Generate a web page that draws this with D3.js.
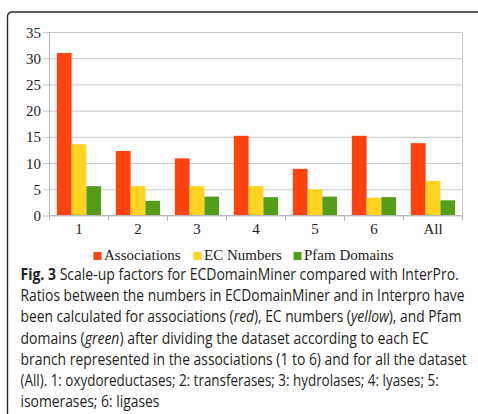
<!DOCTYPE html>
<html>
<head>
<meta charset="utf-8">
<script src="https://cdn.jsdelivr.net/npm/d3@7/dist/d3.min.js"></script>
<style>
  html, body { margin: 0; padding: 0; background: #fff; }
  svg { display: block; }
</style>
</head>
<body>
<svg id="fig" width="478" height="414"></svg>
<script>
// Scale-up factors per EC class
const categories = ["1", "2", "3", "4", "5", "6", "All"];
const seriesNames = ["Associations", "EC Numbers", "Pfam Domains"];
const associations = [31.0, 12.3, 10.9, 15.2, 8.9, 15.2, 13.8];
const ecNumbers   = [13.6, 5.6, 5.6, 5.6, 5.0, 3.4, 6.6];
const pfamDomains = [5.6, 2.8, 3.6, 3.5, 3.6, 3.5, 2.9];
const yTicks = [0, 5, 10, 15, 20, 25, 30, 35];
const seriesColors = ["#ff420e", "#ffd320", "#579d1c"];

// Caption lines; each line is a list of [text, style] runs
const captionLines = [
  [["Fig. 3", "bold"], [" Scale-up factors for ECDomainMiner compared with InterPro.", ""]],
  [["Ratios between the numbers in ECDomainMiner and in Interpro have", ""]],
  [["been calculated for associations (", ""], ["red", "italic"], ["), EC numbers (", ""], ["yellow", "italic"], ["), and Pfam", ""]],
  [["domains (", ""], ["green", "italic"], [") after dividing the dataset according to each EC", ""]],
  [["branch represented in the associations (1 to 6) and for all the dataset", ""]],
  [["(All). 1: oxydoreductases; 2: transferases; 3: hydrolases; 4: lyases; 5:", ""]],
  [["isomerases; 6: ligases", ""]]
];
// right edge of each full caption line (the short closing line uses the common scale)
const captionRight = [459, 465, 462, 429, 467, 439, null];

const seriesValues = [associations, ecNumbers, pfamDomains];
const rows = categories.map((c, i) => ({
  cat: c,
  vals: seriesNames.map((s, j) => ({ key: s, value: seriesValues[j][i], color: seriesColors[j] }))
}));

const svg = d3.select("#fig");

// Figure frame with a rounded top-left corner running off the page
svg.append("path")
  .attr("d", "M7.5,420 L7.5,17 Q7.5,12 12.5,12 L490,12")
  .attr("fill", "none")
  .attr("stroke", "#2a2a2a")
  .attr("stroke-width", 1.4);

const plot = { left: 49.5, right: 462.5, top: 32, bottom: 215.5 };

const x0 = d3.scaleBand().domain(categories).range([plot.left, plot.right]).paddingInner(0).paddingOuter(0);
const x1 = d3.scaleBand().domain(seriesNames).range([0, x0.bandwidth()]).paddingInner(0).paddingOuter(0.5);
const y = d3.scaleLinear().domain([0, 35]).range([plot.bottom, plot.top]);

const serif = "'Liberation Serif', 'Times New Roman', serif";

// Horizontal grid with outward tick stubs
const yAxis = d3.axisLeft(y).tickValues(yTicks).tickSize(plot.right - plot.left + 6.5).tickPadding(2);
const gy = svg.append("g")
  .attr("transform", `translate(${plot.right},0)`)
  .call(yAxis);
gy.select(".domain").remove();
gy.selectAll(".tick line").attr("stroke", "#c8c8c8").attr("stroke-width", 1);
gy.selectAll(".tick text")
  .attr("font-family", serif)
  .attr("font-size", 15)
  .attr("fill", "#222")
  .attr("dy", "0.34em");

// Plot border lines (left and right)
svg.append("line")
  .attr("x1", plot.left).attr("x2", plot.left)
  .attr("y1", plot.top).attr("y2", plot.bottom)
  .attr("stroke", "#b8b8b8");
svg.append("line")
  .attr("x1", plot.right).attr("x2", plot.right)
  .attr("y1", plot.top).attr("y2", plot.bottom)
  .attr("stroke", "#c8c8c8");

// Bars
const groups = svg.append("g").selectAll("g")
  .data(rows)
  .join("g")
  .attr("transform", d => `translate(${x0(d.cat)},0)`);
groups.selectAll("rect")
  .data(d => d.vals)
  .join("rect")
  .attr("x", d => x1(d.key))
  .attr("width", x1.bandwidth())
  .attr("y", d => y(d.value))
  .attr("height", d => y(0) - y(d.value))
  .attr("fill", d => d.color);

// Category axis: boundary ticks between groups and centered labels
const boundaries = categories.map(c => x0(c)).concat([plot.right]);
svg.append("line")
  .attr("x1", plot.left).attr("x2", plot.right)
  .attr("y1", plot.bottom).attr("y2", plot.bottom)
  .attr("stroke", "#b8b8b8");
svg.append("g").selectAll("line")
  .data(boundaries)
  .join("line")
  .attr("x1", d => d).attr("x2", d => d)
  .attr("y1", plot.bottom).attr("y2", plot.bottom + 5)
  .attr("stroke", "#b8b8b8");
svg.append("g").selectAll("text")
  .data(categories)
  .join("text")
  .attr("x", d => x0(d) + x0.bandwidth() / 2)
  .attr("y", 234)
  .attr("text-anchor", "middle")
  .attr("font-family", serif)
  .attr("font-size", 15)
  .attr("fill", "#222")
  .text(d => d);

// Legend
const legendX = [93.5, 193.5, 293.5];
const legend = svg.append("g").selectAll("g")
  .data(seriesNames)
  .join("g")
  .attr("transform", (d, i) => `translate(${legendX[i]},0)`);
legend.append("rect")
  .attr("x", 0).attr("y", 252)
  .attr("width", 8).attr("height", 8)
  .attr("fill", (d, i) => seriesColors[i]);
legend.append("text")
  .attr("x", 10.5).attr("y", 260)
  .attr("font-family", serif)
  .attr("font-size", 15)
  .attr("fill", "#222")
  .text(d => d);

// Caption: a humanist sans narrowed horizontally so each line fills its measure
const capLeft = 20.5;
const cap = svg.append("g")
  .attr("font-family", "'Open Sans', 'Noto Sans', sans-serif")
  .attr("font-size", 16.5)
  .attr("fill", "#231f20");
const capTexts = captionLines.map((runs, i) => {
  const g = cap.append("g");
  const t = g.append("text")
    .attr("x", 0)
    .attr("y", 0);
  runs.forEach(([txt, style]) => {
    const s = t.append("tspan").text(txt);
    if (style === "bold") s.attr("font-weight", 700);
    if (style === "italic") s.attr("font-style", "italic");
  });
  return { g, t };
});
const scales = capTexts.map((d, i) =>
  captionRight[i] == null ? null : (captionRight[i] - capLeft) / d.t.node().getComputedTextLength());
const common = d3.median(scales.filter(s => s != null));
capTexts.forEach((d, i) => {
  const sx = scales[i] == null ? common : scales[i];
  d.g.attr("transform", `translate(${capLeft},${280 + i * 21.2}) scale(${sx},1)`);
});
</script>
</body>
</html>
